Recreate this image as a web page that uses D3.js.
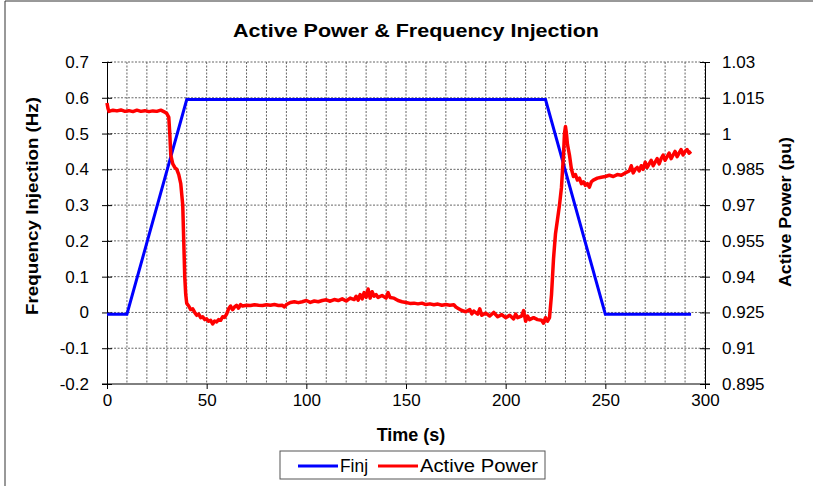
<!DOCTYPE html>
<html lang="en">
<head>
<meta charset="utf-8">
<title>Active Power & Frequency Injection</title>
<style>
    body { margin: 0; background: white; }
    text { font-family: "Liberation Sans", Arial, sans-serif; fill: #000; }
    .grid line { stroke: #666; stroke-dasharray: 2 1.5; stroke-width: 1; }
    .axis path, .axis line { stroke: #000; }
    .axis text { font-size: 17px; }
</style>
</head>
<body>
<svg width="813" height="486"></svg>
<script src="https://d3js.org/d3.v7.min.js"></script>
<script>
    // frequency injection (Hz)
    var finjTime = [0, 10, 40, 220, 250, 293];
    var finjValue = [-0.005, -0.005, 0.595, 0.595, -0.005, -0.005];

    // active power (pu)
    var powerTime = [
        0, 0.5, 1, 3, 5, 7, 9, 11, 13, 15, 17, 19, 21, 23, 25, 27, 29, 30, 31, 31.5,
        32, 33, 34, 35, 36, 37, 38, 38.5, 39, 39.5, 40, 41, 42, 43, 44, 45, 46, 47, 48, 49,
        50, 51, 52, 53, 54, 55, 56, 57, 58, 59, 60, 61, 62, 63, 64, 65, 66, 67, 68, 70,
        72, 74, 76, 78, 80, 82, 84, 86, 88, 89, 90, 92, 94, 96, 98, 100, 102, 104, 106, 108,
        110, 112, 114, 116, 118, 120, 122, 124, 125, 126, 127, 128, 129, 130, 131, 132, 133, 134, 135, 136,
        138, 140, 141, 142, 144, 146, 148, 150, 152, 154, 156, 158, 160, 162, 164, 166, 168, 170, 172, 174,
        175, 176, 178, 180, 182, 183, 184, 186, 187, 188, 190, 192, 194, 196, 198, 200, 202, 204, 205, 206,
        208, 209, 210, 211, 212, 214, 216, 218, 219, 220, 221, 222, 223, 224, 225, 226, 227, 228, 229, 229.5,
        230, 230.5, 231, 232, 233, 234, 235, 236, 237, 238, 239, 240, 241, 242, 243, 244, 246, 248, 250, 252,
        254, 256, 258, 260, 262, 263, 264, 265, 266, 267, 268, 269, 270, 271, 272, 273, 274, 275, 276, 277,
        278, 279, 280, 281, 282, 283, 284, 285, 286, 287, 288, 289, 290, 291, 292, 293
    ];
    var powerValue = [
        1.0128, 1.0105, 1.0093, 1.0098, 1.0095, 1.0099, 1.0093, 1.0096, 1.0092, 1.0098, 1.0093, 1.0096, 1.0092, 1.0095, 1.0093, 1.0098, 1.0090, 1.0084, 1.0068, 1.0000,
        0.9910, 0.9873, 0.9858, 0.9850, 0.9828, 0.9790, 0.9700, 0.9550, 0.9400, 0.9325, 0.9288, 0.9277, 0.9262, 0.9265, 0.9250, 0.9238, 0.9243, 0.9228, 0.9232, 0.9220,
        0.9223, 0.9213, 0.9217, 0.9202, 0.9214, 0.9210, 0.9220, 0.9217, 0.9232, 0.9229, 0.9243, 0.9265, 0.9277, 0.9262, 0.9273, 0.9280, 0.9268, 0.9283, 0.9277, 0.9280,
        0.9279, 0.9282, 0.9280, 0.9279, 0.9282, 0.9280, 0.9283, 0.9279, 0.9280, 0.9273, 0.9283, 0.9292, 0.9295, 0.9291, 0.9295, 0.9300, 0.9292, 0.9298, 0.9295, 0.9300,
        0.9303, 0.9297, 0.9304, 0.9300, 0.9307, 0.9298, 0.9310, 0.9304, 0.9318, 0.9301, 0.9325, 0.9307, 0.9333, 0.9313, 0.9348, 0.9310, 0.9337, 0.9318, 0.9325, 0.9313,
        0.9321, 0.9310, 0.9333, 0.9313, 0.9310, 0.9300, 0.9295, 0.9292, 0.9288, 0.9289, 0.9286, 0.9289, 0.9283, 0.9286, 0.9282, 0.9285, 0.9280, 0.9283, 0.9280, 0.9282,
        0.9273, 0.9268, 0.9258, 0.9253, 0.9262, 0.9244, 0.9256, 0.9243, 0.9265, 0.9238, 0.9247, 0.9235, 0.9250, 0.9232, 0.9241, 0.9228, 0.9238, 0.9223, 0.9243, 0.9228,
        0.9235, 0.9258, 0.9213, 0.9235, 0.9220, 0.9228, 0.9220, 0.9217, 0.9205, 0.9228, 0.9213, 0.9228, 0.9325, 0.9475, 0.9580, 0.9640, 0.9700, 0.9775, 0.9910, 1.0000,
        1.0030, 1.0000, 0.9955, 0.9910, 0.9850, 0.9820, 0.9828, 0.9805, 0.9813, 0.9790, 0.9798, 0.9783, 0.9790, 0.9775, 0.9798, 0.9805, 0.9813, 0.9817, 0.9820, 0.9825,
        0.9820, 0.9828, 0.9825, 0.9835, 0.9843, 0.9865, 0.9835, 0.9850, 0.9858, 0.9843, 0.9865, 0.9850, 0.9880, 0.9858, 0.9873, 0.9888, 0.9865, 0.9880, 0.9895, 0.9873,
        0.9895, 0.9910, 0.9888, 0.9903, 0.9918, 0.9895, 0.9910, 0.9925, 0.9903, 0.9918, 0.9933, 0.9910, 0.9925, 0.9933, 0.9918, 0.9925
    ];

    var xTicks = [0, 50, 100, 150, 200, 250, 300];
    var leftTicks = [-0.2, -0.1, 0, 0.1, 0.2, 0.3, 0.4, 0.5, 0.6, 0.7];
    var leftLabels = ['-0.2', '-0.1', '0', '0.1', '0.2', '0.3', '0.4', '0.5', '0.6', '0.7'];
    var rightTicks = [0.895, 0.91, 0.925, 0.94, 0.955, 0.97, 0.985, 1, 1.015, 1.03];
    var rightLabels = ['0.895', '0.91', '0.925', '0.94', '0.955', '0.97', '0.985', '1', '1.015', '1.03'];

    var svg = d3.select('svg');
    var margin = { left: 107, right: 705, top: 62, bottom: 384 };

    var x = d3.scaleLinear().domain([0, 300]).range([margin.left, margin.right]);
    var yL = d3.scaleLinear().domain([-0.2, 0.7]).range([margin.bottom, margin.top]);
    var yR = d3.scaleLinear().domain([0.895, 1.03]).range([margin.bottom, margin.top]);

    // frame around the picture
    svg.append('line').attr('x1', 5).attr('x2', 5).attr('y1', 1).attr('y2', 486).attr('stroke', '#333');
    svg.append('line').attr('x1', 5).attr('x2', 813).attr('y1', 1).attr('y2', 1).attr('stroke', '#333');

    // grid
    var grid = svg.append('g').attr('class', 'grid');
    grid.selectAll('.v').data(d3.range(10, 301, 10)).enter().append('line')
        .attr('x1', d => x(d)).attr('x2', d => x(d))
        .attr('y1', margin.top).attr('y2', margin.bottom);
    grid.selectAll('.h').data(leftTicks.slice(1)).enter().append('line')
        .attr('x1', margin.left).attr('x2', margin.right)
        .attr('y1', d => yL(d)).attr('y2', d => yL(d));

    // axes
    svg.append('g').attr('class', 'axis')
        .attr('transform', `translate(0,${margin.bottom})`)
        .call(d3.axisBottom(x).tickValues(xTicks).tickSize(5).tickPadding(5).tickFormat(d3.format('d')))
        .call(g => g.select('.domain').remove());
    svg.append('line').attr('x1', margin.left - 5).attr('x2', margin.right + 5)
        .attr('y1', margin.bottom).attr('y2', margin.bottom).attr('stroke', '#000');

    svg.append('g').attr('class', 'axis')
        .attr('transform', `translate(${margin.left},0)`)
        .call(d3.axisLeft(yL).tickValues(leftTicks).tickSizeInner(5).tickSizeOuter(0).tickPadding(13)
            .tickFormat((d, i) => leftLabels[i]))
        .call(g => g.selectAll('.tick line').attr('x1', 5).attr('x2', -5));

    svg.append('g').attr('class', 'axis')
        .attr('transform', `translate(${margin.right},0)`)
        .call(d3.axisRight(yR).tickValues(rightTicks).tickSizeInner(5).tickSizeOuter(0).tickPadding(12)
            .tickFormat((d, i) => rightLabels[i]))
        .call(g => g.selectAll('.tick line').attr('x1', -5).attr('x2', 5));

    svg.selectAll('.axis .tick text').attr('fill', '#000');

    // series
    var finjLine = d3.line().x(d => x(d[0])).y(d => yL(d[1]));
    var powerLine = d3.line().x(d => x(d[0])).y(d => yR(d[1]));

    svg.append('path')
        .datum(d3.zip(finjTime, finjValue))
        .attr('d', finjLine)
        .attr('fill', 'none').attr('stroke', '#0000ff').attr('stroke-width', 3);

    svg.append('path')
        .datum(d3.zip(powerTime, powerValue))
        .attr('d', powerLine)
        .attr('fill', 'none').attr('stroke', '#ff0000').attr('stroke-width', 3.5)
        .attr('stroke-linejoin', 'round');

    // titles
    svg.append('text').attr('x', 416).attr('y', 37).attr('text-anchor', 'middle')
        .style('font-size', '19px').style('font-weight', 'bold')
        .attr('textLength', 366).attr('lengthAdjust', 'spacingAndGlyphs')
        .text('Active Power & Frequency Injection');

    svg.append('text').attr('x', 411).attr('y', 441).attr('text-anchor', 'middle')
        .style('font-size', '18px').style('font-weight', 'bold')
        .text('Time (s)');

    svg.append('text').attr('transform', 'translate(38,206) rotate(-90)').attr('text-anchor', 'middle')
        .style('font-size', '17px').style('font-weight', 'bold')
        .attr('textLength', 218).attr('lengthAdjust', 'spacingAndGlyphs')
        .text('Frequency Injection (Hz)');

    svg.append('text').attr('transform', 'translate(791,212) rotate(-90)').attr('text-anchor', 'middle')
        .style('font-size', '17px').style('font-weight', 'bold')
        .attr('textLength', 150).attr('lengthAdjust', 'spacingAndGlyphs')
        .text('Active Power (pu)');

    // legend
    var legend = svg.append('g').attr('transform', 'translate(280,451)');
    legend.append('rect').attr('width', 265).attr('height', 28)
        .attr('fill', 'white').attr('stroke', '#555');
    var items = [['Finj', '#0000ff', 18, 28], ['Active Power', '#ff0000', 98, 118]];
    items.forEach(function(it) {
        legend.append('line').attr('x1', it[2]).attr('x2', it[2] + 40).attr('y1', 15).attr('y2', 15)
            .attr('stroke', it[1]).attr('stroke-width', 3);
        legend.append('text').attr('x', it[2] + 42).attr('y', 21)
            .style('font-size', '18px')
            .attr('textLength', it[3]).attr('lengthAdjust', 'spacingAndGlyphs')
            .text(it[0]);
    });
</script>
</body>
</html>
